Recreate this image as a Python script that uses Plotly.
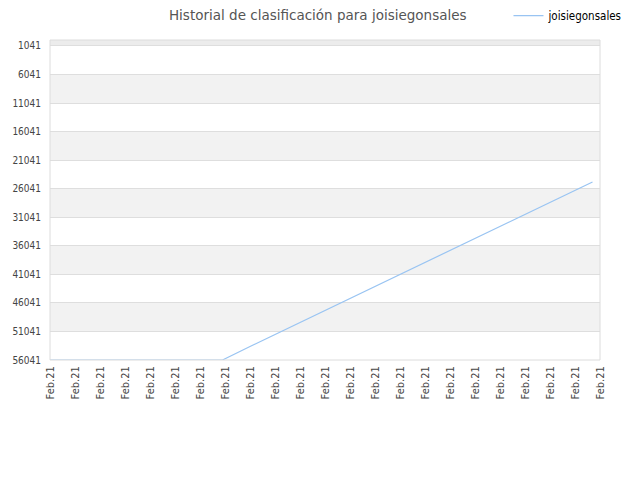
import plotly.graph_objects as go

# chart values
tick_labels = ["Feb.21"] * 23
day_index = [0, 1, 2, 3, 4, 5, 6, 6.9, 8, 10, 12, 14, 16, 18, 20, 21.7]
ranking = [56041, 56041, 56041, 56041, 56041, 56041, 56041, 56041,
           53680, 49470, 45250, 41050, 36830, 32620, 28400, 24860]
y_ticks = [1041, 6041, 11041, 16041, 21041, 26041, 31041, 36041, 41041, 46041, 51041, 56041]

y_top = -9
y_bottom = 56041

fig = go.Figure()
fig.add_trace(go.Scatter(
    x=day_index, y=ranking, mode="lines", name="joisiegonsales",
    line=dict(color="#99c4f2", width=1.2),
))

# alternating background bands
shapes = [dict(type="rect", xref="paper", yref="y", x0=0, x1=1, y0=y_top, y1=y_ticks[0],
               fillcolor="#ececec", line_width=0, layer="below")]
for i in range(len(y_ticks) - 1):
    if i % 2 == 1:
        shapes.append(dict(type="rect", xref="paper", yref="y", x0=0, x1=1,
                           y0=y_ticks[i], y1=y_ticks[i + 1],
                           fillcolor="#f2f2f2", line_width=0, layer="below"))
shapes.append(dict(type="rect", xref="paper", yref="paper", x0=0, x1=1, y0=0, y1=1,
                   line=dict(color="#dcdcdc", width=1)))

fig.update_layout(
    width=640, height=480,
    margin=dict(l=42, r=48, t=32, b=128, autoexpand=False),
    paper_bgcolor="white", plot_bgcolor="white",
    font=dict(family="DejaVu Sans Condensed, DejaVu Sans", size=10, color="#444"),
    title=dict(text="Historial de clasificación para joisiegonsales",
               x=0.484, xanchor="center", y=0.984, yanchor="middle",
               font=dict(family="DejaVu Sans", size=13.5, color="#555")),
    showlegend=True,
    legend=dict(x=0.782, xref="container", xanchor="left", y=0.984, yref="container",
                yanchor="middle", font=dict(size=11.5, color="#000"),
                bgcolor="rgba(0,0,0,0)", itemwidth=30),
    shapes=shapes,
)
fig.update_xaxes(
    range=[0, 22], tickmode="array", tickvals=list(range(23)), ticktext=tick_labels,
    tickangle=-90, showgrid=False, zeroline=False, showline=False, automargin=False,
    ticks="", ticklabelstandoff=3, tickfont=dict(size=11, color="#444"),
)
fig.update_yaxes(
    range=[y_bottom, y_top], tickmode="array", tickvals=y_ticks,
    ticktext=[str(v) for v in y_ticks], automargin=False,
    showgrid=True, gridcolor="#dedede", gridwidth=1, zeroline=False, showline=False,
    ticks="", ticklabelstandoff=8, tickfont=dict(size=10, color="#444"),
)

fig.write_html("out.html")
